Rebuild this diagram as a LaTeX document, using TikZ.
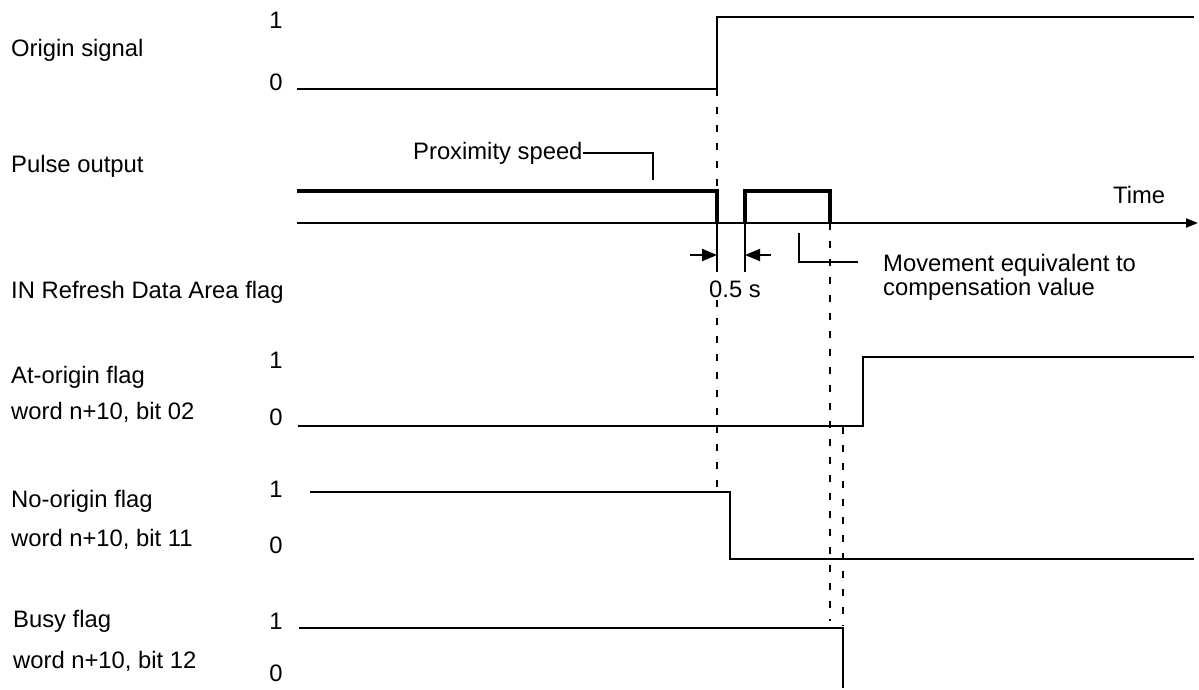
\documentclass[tikz,border=0pt]{standalone}
\usepackage{fontspec}
\setmainfont{Liberation Sans}
\usetikzlibrary{arrows.meta}
\begin{document}
\begin{tikzpicture}[x=1pt,y=-1pt,
  every node/.style={inner sep=0pt,font=\fontsize{23.8}{26}\selectfont},
  lbl/.style={anchor=base west},
  lvl/.style={anchor=base},
  sig/.style={line width=2.2pt,line join=miter},
  pulse/.style={line width=4.5pt,line join=miter},
  thin/.style={line width=2pt},
  guide/.style={line width=2.2pt,dash pattern=on 7pt off 11pt},
  dimarrow/.style={line width=2pt,-{Triangle[length=15pt,width=12pt]}}]
\useasboundingbox (0,0) rectangle (1199,689);
% signal labels
\node[lbl] (l1) at (11,56) {Origin signal};
\node[lbl] (l2) at (11,172) {Pulse output};
\node[lbl] (l3) at (11,298) {IN Refresh Data Area flag};
\node[lbl] (l4) at (11,383) {At-origin flag};
\node[lbl] (l4b) at (11,419) {word n+10, bit 02};
\node[lbl] (l5) at (11,507) {No-origin flag};
\node[lbl] (l5b) at (11,546) {word n+10, bit 11};
\node[lbl] (l6) at (13,627) {Busy flag};
\node[lbl] (l6b) at (13,668) {word n+10, bit 12};
% level labels
\node[lvl] (o1) at (276,28) {1};
\node[lvl] (o0) at (276,90) {0};
\node[lvl] (a1) at (276,368) {1};
\node[lvl] (a0) at (276,425) {0};
\node[lvl] (n1) at (276,497) {1};
\node[lvl] (n0) at (276,553) {0};
\node[lvl] (b1) at (276,629) {1};
\node[lvl] (b0) at (276,681) {0};
% other texts
\node[lbl] (prox) at (413,159) {Proximity speed};
\node[lbl] (time) at (1113,203) {Time};
\node[lbl] (half) at (709,297) {0.5 s};
\node[lbl] (mov1) at (883,271) {Movement equivalent to};
\node[lbl] (mov2) at (883,295) {compensation value};
% guide (dashed) lines
\draw[guide] (717,89) -- (717,191);
\draw[guide] (717,300) -- (717,492);
\draw[guide] (830,223) -- (830,621);
\draw[guide] (843,427) -- (843,626);
% origin signal
\draw[sig] (297,89) -- (717,89) -- (717,17) -- (1194,17);
% time axis
\coordinate (ax0) at (297,223);
\coordinate (ax1) at (1198,223);
\draw[thin,-{Triangle[length=12pt,width=9pt]}] (ax0) -- (ax1);
% pulse output
\draw[pulse] (297,191) -- (717,191) -- (717,223);
\draw[pulse] (745,223) -- (745,191) -- (830,191) -- (830,223);
% 0.5 s dimension
\draw[thin] (717,223) -- (717,272);
\draw[thin] (745,223) -- (745,272);
\coordinate (da) at (690,255);
\coordinate (db) at (771,255);
\draw[dimarrow] (da) -- (717,255);
\draw[dimarrow] (db) -- (745,255);
% leaders
\coordinate (pl) at (653,180);
\draw[thin] (prox.east) -| (pl);
\coordinate (ml) at (799,233);
\coordinate (mr) at (858,262);
\draw[thin] (ml) |- (mr);
% at-origin flag
\draw[sig] (298,426) -- (863,426) -- (863,357) -- (1194,357);
% no-origin flag
\draw[sig] (310,492) -- (730,492) -- (730,559) -- (1194,559);
% busy flag
\draw[sig] (299,628) -- (843,628) -- (843,688);
\end{tikzpicture}
\end{document}
